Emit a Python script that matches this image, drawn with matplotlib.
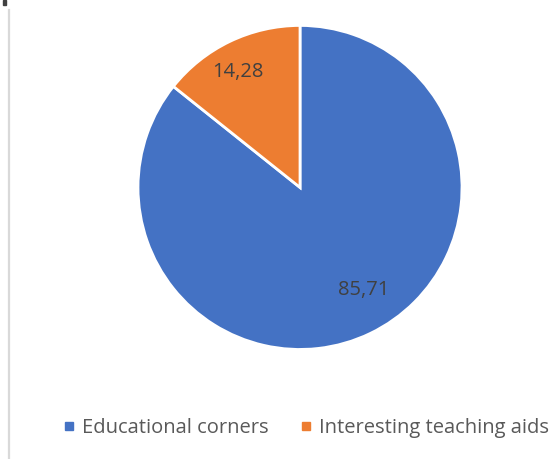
import matplotlib
matplotlib.use("Agg")
import matplotlib.pyplot as plt
from matplotlib.lines import Line2D
from matplotlib.patches import Rectangle

categories = ["Educational corners", "Interesting teaching aids"]
values = [85.71, 14.28]
colors = ["#4472C4", "#ED7D31"]

plt.rcParams['font.family'] = ['Open Sans', 'DejaVu Sans']

fig = plt.figure(figsize=(5.52, 4.59), dpi=100)
fig.patch.set_facecolor("white")

# decorative left border line and small mark
fig.add_artist(Line2D([8.5/552, 8.5/552], [0, 1 - 10/459], color="#d9d9d9", lw=1.6, transform=fig.transFigure))
fig.add_artist(Rectangle((3/552, 1 - 5/459), 3/552, 5/459, color="#404040", transform=fig.transFigure))

ax = fig.add_axes([0.25, 0.2386, 0.587, 0.706])
wedges, texts, autotexts = ax.pie(
    values, colors=colors, startangle=90, counterclock=False,
    wedgeprops=dict(edgecolor="white", linewidth=2),
    autopct=lambda p: "", pctdistance=0.78)
ax.set_aspect("equal")
ax.set_xlim(-1, 1)
ax.set_ylim(-1, 1)

label_pos = [(0.39, -0.635), (-0.385, 0.715)]
for v, pos in zip(values, label_pos):
    ax.text(pos[0], pos[1], f"{v:.2f}".replace(".", ","), ha="center", va="center",
            fontsize=14.5, color="#404040")

handles = [Line2D([0], [0], marker="s", linestyle="none", markersize=5.5,
                  markerfacecolor=c, markeredgecolor=c) for c in colors]
fig.legend(handles, categories, loc="center", bbox_to_anchor=(0.555, 1 - 428/459),
           ncol=2, frameon=False, fontsize=14.5, labelcolor="#595959",
           handlelength=0.5, handletextpad=0.4, columnspacing=1.6)

fig.savefig("out.png", dpi=100)
